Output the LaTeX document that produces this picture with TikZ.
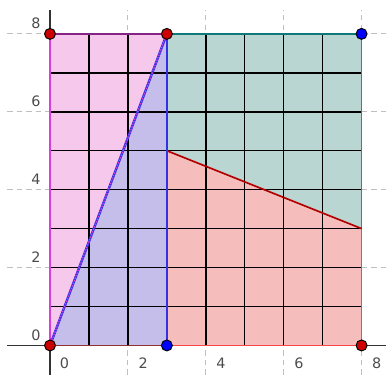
\documentclass[tikz,border=0pt]{standalone}
\usepackage{fontspec}
\setmainfont{DejaVu Sans}
\usetikzlibrary{positioning}
\definecolor{pinkfill}{RGB}{246,200,236}
\definecolor{violetfill}{RGB}{197,190,235}
\definecolor{tealfill}{RGB}{186,214,211}
\definecolor{redfill}{RGB}{246,189,189}
\definecolor{magentaedge}{RGB}{220,60,220}
\definecolor{blueedge}{RGB}{50,50,230}
\definecolor{tealedge}{RGB}{20,150,150}
\definecolor{rededge}{RGB}{250,70,70}
\definecolor{brownedge}{RGB}{140,50,50}
\definecolor{dotred}{RGB}{204,0,0}
\definecolor{dotblue}{RGB}{0,0,255}

\begin{document}
\begin{tikzpicture}[
  gridline/.style={black!25, dash pattern=on 4pt off 3pt, line width=0.7pt},
  axis/.style={black!80, line width=0.9pt},
  cell/.style={black, line width=1.1pt},
  edge/.style={line width=1.2pt},
  pt/.style={circle, draw=black, line width=0.7pt, inner sep=0pt, minimum size=8pt},
  lbl/.style={text=black!70, font=\fontsize{10.5}{12}\selectfont, inner sep=0pt}
]
  \useasboundingbox (-1.284,-0.757) rectangle (8.627,8.870);

  % corner points of the square
  \coordinate (O) at (0,0);
  \coordinate (B) at (3,0);
  \coordinate (C) at (8,0);
  \coordinate (D) at (8,8);
  \coordinate (E) at (3,8);
  \coordinate (F) at (0,8);
  \coordinate (G) at (3,5);
  \coordinate (H) at (8,3);

  % axes and dashed grid
  \foreach \v in {2,4,6,8} {
    \draw[gridline] (-1.1,\v) -- (8.627,\v);
    \draw[gridline] (\v,-0.757) -- (\v,8.61);
    \node[lbl] (xl\v) at (\v+0.39,-0.45) {\v};
    \node[lbl] (yl\v) at (-0.36,\v+0.26) {\v};
  }
  \node[lbl] (xl0) at (0.37,-0.45) {0};
  \node[lbl] (yl0) at (-0.36,0.27) {0};
  \coordinate (xmin) at (-1.1,0);
  \coordinate (xmax) at (8.627,0);
  \coordinate (ymin) at (0,-0.757);
  \coordinate (ymax) at (0,8.61);
  \draw[axis] (xmin) -- (xmax);
  \draw[axis] (ymin) -- (ymax);

  % regions
  \fill[pinkfill] (O) -- (F) -- (E) -- cycle;
  \fill[violetfill] (O) -- (E) -- (B) -- cycle;
  \fill[tealfill] (E) -- (D) -- (H) -- (G) -- cycle;
  \fill[redfill] (G) -- (H) -- (C) -- (B) -- cycle;

  \foreach \i in {1,...,7} {
    \draw[cell] (\i,0) -- (\i,8);
    \draw[cell] (0,\i) -- (8,\i);
  }

  % edges
  \draw[edge, magentaedge] (O) -- (F);
  \draw[edge, magentaedge!60!black] (F) -- (E);
  \draw[edge, tealedge!80!black] (E) -- (D);
  \draw[edge, tealedge] (D) -- (H);
  \draw[edge, rededge] (H) -- (C);
  \draw[edge, rededge] (C) -- (B);
  \draw[edge, brownedge] (O) -- (B);
  \draw[edge, red!70!black] (G) -- (H);
  \draw[edge, blueedge] (B) -- (E);
  \draw[line width=1.8pt, blueedge] (O) -- (E);
  \draw[line width=0.9pt, magentaedge, dash pattern=on 1pt off 1pt] (O) -- (E);

  % points
  \node[pt, fill=dotred] (pO) at (O) {};
  \node[pt, fill=dotred] (pF) at (F) {};
  \node[pt, fill=dotred] (pE) at (E) {};
  \node[pt, fill=dotred] (pC) at (C) {};
  \node[pt, fill=dotblue] (pB) at (B) {};
  \node[pt, fill=dotblue] (pD) at (D) {};
\end{tikzpicture}
\end{document}
